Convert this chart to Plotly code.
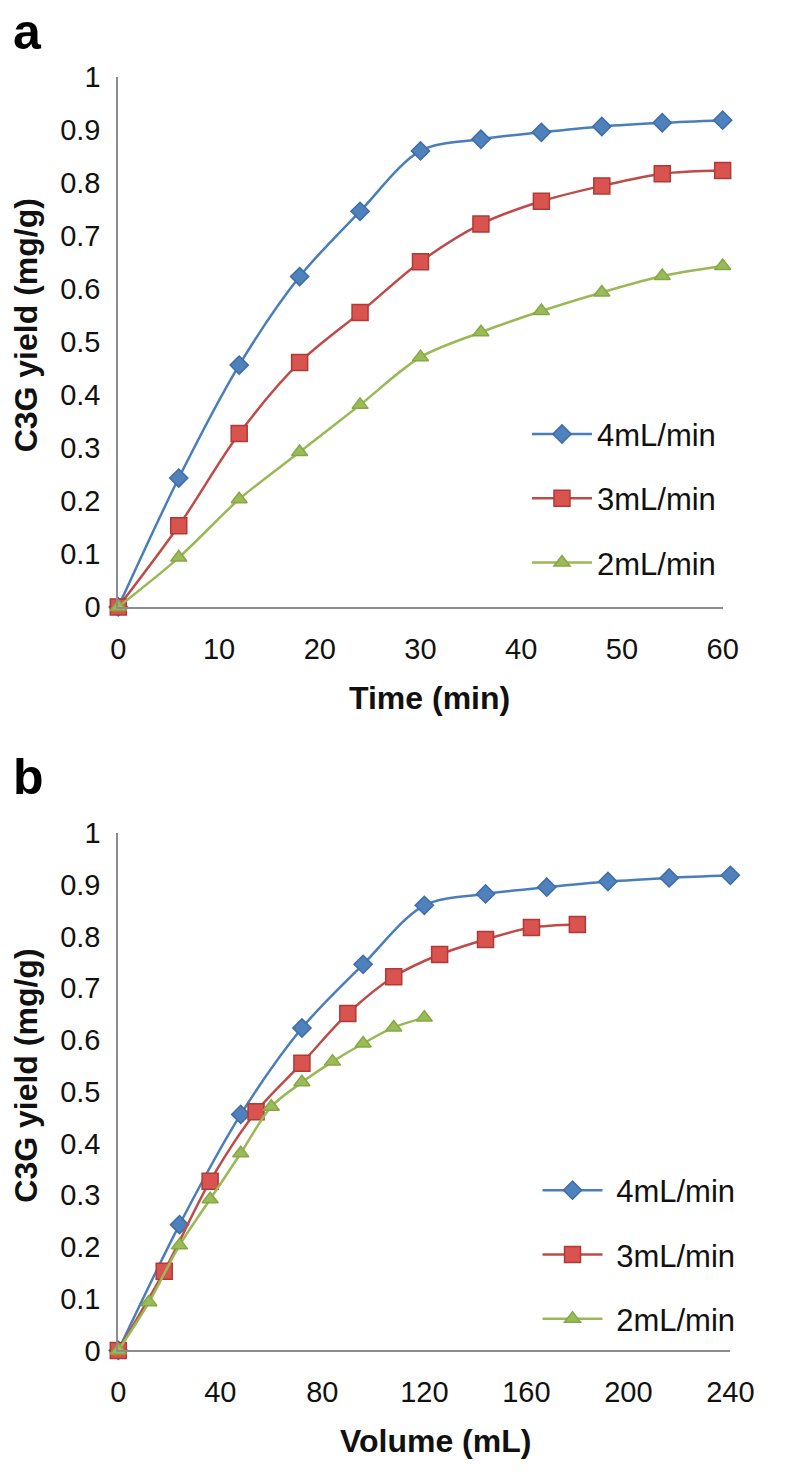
import plotly.graph_objects as go

# ---- data ----
time_min = [0, 6, 12, 18, 24, 30, 36, 42, 48, 54, 60]
yield_4 = [0, 0.243, 0.456, 0.623, 0.746, 0.860, 0.882, 0.895, 0.906, 0.913, 0.918]
yield_3 = [0, 0.153, 0.327, 0.461, 0.555, 0.651, 0.722, 0.765, 0.794, 0.817, 0.823]
yield_2 = [0, 0.093, 0.203, 0.292, 0.381, 0.471, 0.518, 0.558, 0.593, 0.624, 0.643]

vol_4 = [0, 24, 48, 72, 96, 120, 144, 168, 192, 216, 240]
vol_3 = [0, 18, 36, 54, 72, 90, 108, 126, 144, 162, 180]
vol_2 = [0, 12, 24, 36, 48, 60, 72, 84, 96, 108, 120]

names = ["4mL/min", "3mL/min", "2mL/min"]
y_ticks = [0, 0.1, 0.2, 0.3, 0.4, 0.5, 0.6, 0.7, 0.8, 0.9, 1]
y_tick_text = ["0", "0.1", "0.2", "0.3", "0.4", "0.5", "0.6", "0.7", "0.8", "0.9", "1"]
x_ticks_a = [0, 10, 20, 30, 40, 50, 60]
x_ticks_b = [0, 40, 80, 120, 160, 200, 240]

# ---- styles ----
FONT = "Liberation Sans, Arial, Helvetica, sans-serif"
line_cols = ["#4A7EBB", "#BE4B48", "#98B954"]
fill_cols = ["#4F81BD", "#D9534F", "#9BBB59"]
edge_cols = ["#3E6DA8", "#B03A37", "#86A844"]
symbols = ["diamond", "square", "triangle-up"]
sizes = [14, 16, 14]

W, H = 786, 1474
def px(x): return x / W
def py(y): return 1 - y / H

fig = go.Figure()

panels = [
    ([time_min, time_min, time_min], "x", "y", "legend", ""),
    ([vol_4, vol_3, vol_2], "x2", "y2", "legend2", " "),
]
ys = [yield_4, yield_3, yield_2]

for p, (xs, xa, ya, lg, pad) in enumerate(panels):
    for i in range(3):
        fig.add_trace(go.Scatter(
            x=xs[i], y=ys[i], name=pad + names[i], mode="lines+markers",
            xaxis=xa, yaxis=ya, legend=lg, legendgroup=f"{p}{i}",
            line=dict(color=line_cols[i], width=2.5, shape="spline", smoothing=0.9),
            marker=dict(symbol=symbols[i], size=sizes[i], color=fill_cols[i],
                        line=dict(color=edge_cols[i], width=1.5)),
            cliponaxis=False,
        ))

axis_common = dict(
    showgrid=False, zeroline=False, showline=True, linecolor="#8C8C8C", linewidth=2,
    ticks="", tickfont=dict(family=FONT, size=29, color="#111111"),
)

fig.update_layout(
    width=W, height=H, margin=dict(l=0, r=0, t=0, b=0),
    paper_bgcolor="white", plot_bgcolor="white",
    showlegend=True,
    xaxis=dict(domain=[px(115), px(745)], anchor="y", range=[0, 60],
               tickvals=x_ticks_a, ticklabelstandoff=15, **axis_common),
    yaxis=dict(domain=[py(604), py(62)], anchor="x", range=[0, 1],
               tickvals=y_ticks, ticktext=y_tick_text, ticklabelstandoff=10, **axis_common),
    xaxis2=dict(domain=[px(115), px(753)], anchor="y2", range=[0, 240],
                tickvals=x_ticks_b, ticklabelstandoff=15, **axis_common),
    yaxis2=dict(domain=[py(1364), py(835)], anchor="x2", range=[0, 1],
                tickvals=y_ticks, ticktext=y_tick_text, ticklabelstandoff=10, **axis_common),
    legend=dict(x=px(541), y=py(400), xanchor="left", yanchor="top",
                font=dict(family=FONT, size=31, color="#111111"),
                bgcolor="rgba(0,0,0,0)", tracegroupgap=21, itemwidth=60),
    legend2=dict(x=px(552), y=py(1173), xanchor="left", yanchor="top",
                 font=dict(family=FONT, size=31, color="#111111"),
                 bgcolor="rgba(0,0,0,0)", tracegroupgap=21, itemwidth=60),
)

ann_font_title = dict(family=FONT, size=32, color="#111111")
annotations = [
    dict(text="<b>a</b>", x=px(3), y=py(47), xanchor="left", yanchor="bottom",
         font=dict(family=FONT, size=50, color="black")),
    dict(text="<b>b</b>", x=px(3), y=py(809), xanchor="left", yanchor="bottom",
         font=dict(family=FONT, size=50, color="black")),
    dict(text="<b>C3G yield (mg/g)</b>", x=px(19), y=py(316), textangle=-90,
         xanchor="center", yanchor="middle", font=ann_font_title),
    dict(text="<b>C3G yield (mg/g)</b>", x=px(19), y=py(1083), textangle=-90,
         xanchor="center", yanchor="middle", font=ann_font_title),
    dict(text="<b>Time (min)</b>", x=px(439), y=py(697),
         xanchor="center", yanchor="middle", font=ann_font_title),
    dict(text="<b>Volume (mL)</b>", x=px(446), y=py(1457),
         xanchor="center", yanchor="middle", font=ann_font_title),
]
for a in annotations:
    a.update(xref="paper", yref="paper", showarrow=False)
fig.update_layout(annotations=annotations)

fig.write_html("out.html", config={"displayModeBar": False},
               post_script="document.body.style.margin='0px';document.body.style.overflow='hidden';")
